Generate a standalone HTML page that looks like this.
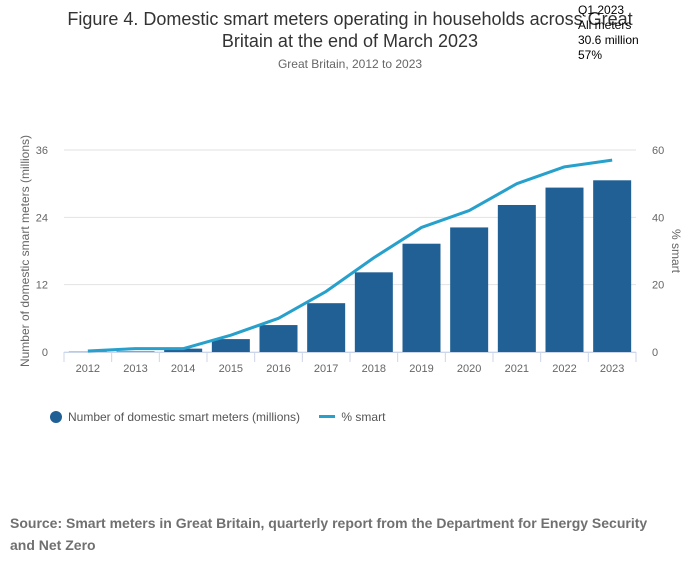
<!DOCTYPE html>
<html><head><meta charset="utf-8"><style>
body{margin:0;width:700px;height:574px;background:#fff;font-family:"Liberation Sans",sans-serif;position:relative;overflow:hidden}
.t{position:absolute;left:0;width:700px;text-align:center}
</style></head><body>
<div class="t" style="top:8px;font-size:18px;color:#333;line-height:22px">Figure 4. Domestic smart meters operating in households across Great<br>Britain at the end of March 2023</div>
<div class="t" style="top:57px;font-size:12px;color:#666">Great Britain, 2012 to 2023</div>
<div style="position:absolute;left:578px;top:3px;font-size:12px;line-height:15px;color:#000">Q1 2023<br>All meters<br>30.6 million<br>57%</div>
<svg id="c" width="700" height="574" style="position:absolute;left:0;top:0"></svg>
<div style="position:absolute;left:50px;top:410px;font-size:12px;color:#555">
<span><span style="display:inline-block;width:12px;height:12px;border-radius:6px;background:#206095;vertical-align:-2px;margin-right:6px"></span>Number of domestic smart meters (millions)</span>
<span style="margin-left:16px"><span style="display:inline-block;width:16px;height:3px;background:#27a0cc;vertical-align:3px;margin-right:6px"></span>% smart</span>
</div>
<div style="position:absolute;left:10px;top:512px;width:660px;font-size:14px;font-weight:bold;color:#707070;line-height:22px">Source: Smart meters in Great Britain, quarterly report from the Department for Energy Security and Net Zero</div>
<script>
const years=["2012","2013","2014","2015","2016","2017","2018","2019","2020","2021","2022","2023"];
const meters=[0.05,0.1,0.6,2.3,4.8,8.7,14.2,19.3,22.2,26.2,29.3,30.6];
const pct=[0.3,1,1,5,10,18,28,37,42,50,55,57];
const leftTicks=[0,12,24,36];
const rightTicks=[0,20,40,60];
const NS="http://www.w3.org/2000/svg";
const svg=document.getElementById('c');
const X0=64,X1=636,Y0=352,Y1=150;
const bw=(X1-X0)/years.length;
const yl=v=>Y0-(v/36)*(Y0-Y1);
const yr=v=>Y0-(v/60)*(Y0-Y1);
const xc=i=>X0+bw*(i+0.5);
function mk(t,a,txt){const e=document.createElementNS(NS,t);for(const k in a)e.setAttribute(k,a[k]);if(txt!==undefined)e.textContent=txt;svg.appendChild(e);return e;}
leftTicks.forEach((v,i)=>{
 const g=mk('line',{x1:X0,x2:X1,y1:yl(v),y2:yl(v),stroke:'#e2e2e2'});
 
 const t=mk('text',{x:48,y:yl(v)+4,'text-anchor':'end','font-size':11,fill:'#666'},v);
 
});
rightTicks.forEach(v=>{
 const t=mk('text',{x:652,y:yr(v)+4,'font-size':11,fill:'#666'},v);
 
});
meters.forEach((v,i)=>{
 const r=mk('rect',{x:xc(i)-19,y:yl(v),width:38,height:Y0-yl(v),fill:'#206095'});
 
});
const ax=mk('line',{x1:X0,x2:X1,y1:Y0+0.5,y2:Y0+0.5,stroke:'#ccd6eb'});

years.forEach((y,i)=>{
 const tk=mk('line',{x1:X0+bw*i,x2:X0+bw*i,y1:Y0,y2:Y0+10,stroke:'#ccd6eb'});
 
 const t=mk('text',{x:xc(i),y:372,'text-anchor':'middle','font-size':11,fill:'#666'},y);
 
});
const tk=mk('line',{x1:X1,x2:X1,y1:Y0,y2:Y0+10,stroke:'#ccd6eb'});

const ln=mk('polyline',{points:pct.map((v,i)=>xc(i)+','+yr(v)).join(' '),fill:'none',stroke:'#27a0cc','stroke-width':3,'stroke-linejoin':'round'});

const yt=mk('text',{x:0,y:0,transform:'translate(29,251) rotate(-90)','text-anchor':'middle','font-size':12,fill:'#666'},'Number of domestic smart meters (millions)');

const yt2=mk('text',{x:0,y:0,transform:'translate(672,251) rotate(90)','text-anchor':'middle','font-size':12,fill:'#666'},'% smart');

</script>
</body></html>
